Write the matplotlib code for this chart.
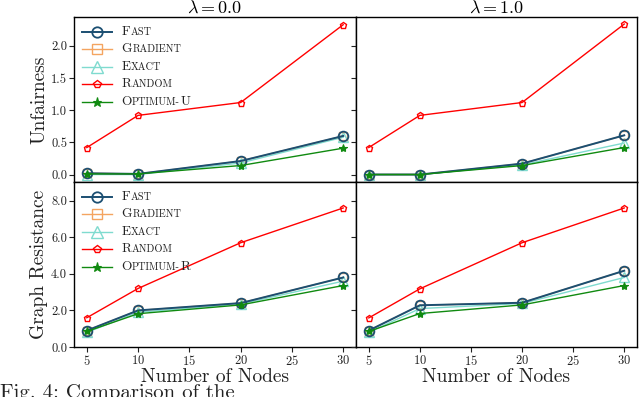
import numpy as np
import matplotlib
matplotlib.use("Agg")
import matplotlib.pyplot as plt
from matplotlib.lines import Line2D
from matplotlib.offsetbox import AnchoredOffsetbox, VPacker, HPacker, TextArea, DrawingArea

plt.rcParams['font.family'] = ['cmr10', 'DejaVu Serif']
plt.rcParams['mathtext.fontset'] = 'cm'
plt.rcParams['axes.unicode_minus'] = False
plt.rcParams['axes.formatter.use_mathtext'] = True

nodes = [5, 10, 20, 30]
lambdas = ['0.0', '1.0']

# unfairness, lambda = 0.0 / 1.0
unf_fast = [[0.02, 0.01, 0.21, 0.60], [0.00, 0.00, 0.17, 0.61]]
unf_grad = [[0.02, 0.01, 0.21, 0.60], [0.00, 0.00, 0.17, 0.61]]
unf_exact = [[0.00, 0.00, 0.18, 0.58], [0.00, 0.00, 0.15, 0.49]]
unf_random = [[0.42, 0.92, 1.12, 2.33], [0.42, 0.92, 1.12, 2.34]]
unf_opt = [[0.01, 0.01, 0.14, 0.41], [0.00, 0.00, 0.14, 0.42]]

# graph resistance, lambda = 0.0 / 1.0
res_fast = [[0.90, 2.00, 2.40, 3.80], [0.90, 2.28, 2.42, 4.17]]
res_grad = [[0.90, 2.00, 2.40, 3.80], [0.90, 2.28, 2.42, 4.17]]
res_exact = [[0.80, 1.90, 2.35, 3.60], [0.80, 2.10, 2.38, 3.80]]
res_random = [[1.60, 3.20, 5.70, 7.60], [1.59, 3.18, 5.70, 7.60]]
res_opt = [[0.85, 1.82, 2.30, 3.36], [0.85, 1.83, 2.30, 3.36]]

names_top = ['Fast', 'Gradient', 'Exact', 'Random', 'Optimum-U']
names_bot = ['Fast', 'Gradient', 'Exact', 'Random', 'Optimum-R']

styles = [
    dict(color='#1b4f72', marker='o', ms=7, mfc='none', mew=1.3, lw=1.4, zorder=5),
    dict(color='#f4a460', marker='s', ms=6, mfc='none', mew=1.0, lw=1.0, zorder=3),
    dict(color='#7fdbcf', marker='^', ms=7.5, mfc='none', mew=1.0, lw=1.0, zorder=2),
    dict(color='#ff0000', marker='p', ms=5, mfc='none', mew=1.0, lw=1.0, zorder=4),
    dict(color='#108a10', marker='*', ms=6, mfc='#108a10', mew=0.8, lw=1.0, zorder=6),
]


def smallcaps(name, big=9.6, small=7.4, color='#222222'):
    # fake small caps: capitals stay big, lower case becomes small capitals
    runs = []
    cur, cur_big = '', None
    for ch in name:
        is_big = ch.isupper()
        if cur_big is None or is_big == cur_big:
            cur += ch
        else:
            runs.append((cur, cur_big))
            cur = ch
        cur_big = is_big
    runs.append((cur, cur_big))
    kids = [TextArea(t.upper(), textprops=dict(size=big if b else small, color=color))
            for t, b in runs]
    return HPacker(children=kids, pad=0, sep=0.4, align='baseline')


def add_legend(ax, names):
    rows = []
    for name, st in zip(names, styles):
        da = DrawingArea(21, 9, 0, 0)
        da.add_artist(Line2D([0, 21], [4.5, 4.5], color=st['color'], lw=st['lw']))
        da.add_artist(Line2D([10.5], [4.5], marker=st['marker'], ms=st['ms'] + 0.5,
                             mfc=st['mfc'], mec=st['color'], mew=st['mew'], lw=0))
        rows.append(HPacker(children=[da, smallcaps(name)], pad=0, sep=7, align='center'))
    box = VPacker(children=rows, pad=0, sep=3.6, align='left')
    anch = AnchoredOffsetbox(loc='upper left', child=box, frameon=False, pad=0.25,
                             borderpad=0.35)
    ax.add_artist(anch)


fig = plt.figure(figsize=(6.4, 3.97), dpi=100)
L, M, R = 74 / 640, 356 / 640, 637 / 640
T, C, B = 1 - 17 / 397, 1 - 182 / 397, 1 - 347 / 397
axes = [[fig.add_axes([L, C, M - L, T - C]), fig.add_axes([M, C, R - M, T - C])],
        [fig.add_axes([L, B, M - L, C - B]), fig.add_axes([M, B, R - M, C - B])]]

top_data = [unf_fast, unf_grad, unf_exact, unf_random, unf_opt]
bot_data = [res_fast, res_grad, res_exact, res_random, res_opt]

for j in range(2):
    for row, data, names in [(0, top_data, names_top), (1, bot_data, names_bot)]:
        ax = axes[row][j]
        for series, st, name in zip(data, styles, names):
            ax.plot(nodes, series[j], label=name, mec=st['color'], **st)
        ax.set_xlim(3.75, 31.25)
        ax.set_xticks([5, 10, 15, 20, 25, 30])
        if row == 0:
            ax.set_ylim(-0.116, 2.45)
            ax.set_yticks([0.0, 0.5, 1.0, 1.5, 2.0])
            ax.set_yticklabels(['0.0', '0.5', '1.0', '1.5', '2.0'])
            ax.tick_params(axis='x', bottom=False, labelbottom=False)
            ax.set_title(r'$\lambda = %s$' % lambdas[j], fontsize=13, pad=3)
        else:
            ax.set_ylim(0, 9.02)
            ax.set_yticks([0, 2, 4, 6, 8])
            ax.set_yticklabels(['0.0', '2.0', '4.0', '6.0', '8.0'])
            ax.set_xlabel('Number of Nodes', fontsize=14, labelpad=0, color='#222222')
        ax.tick_params(axis='both', labelsize=9, length=3.5, width=0.8,
                       colors='#222222', pad=1.5)
        if j == 1:
            ax.tick_params(axis='y', labelleft=False)
        for sp in ax.spines.values():
            sp.set_linewidth(1.0)

axes[0][0].set_ylabel('Unfairness', fontsize=14, labelpad=2, color='#222222')
axes[1][0].set_ylabel('Graph Resistance', fontsize=14, labelpad=2, color='#222222')
add_legend(axes[0][0], names_top)
add_legend(axes[1][0], names_bot)

# caption of the source figure, cut by the bottom edge as in the reference
fig.text(0.0, -0.012, 'Fig. 4: Comparison of the', fontsize=15, ha='left', va='bottom',
         color='#222222')

fig.savefig('out.png', dpi=100)
